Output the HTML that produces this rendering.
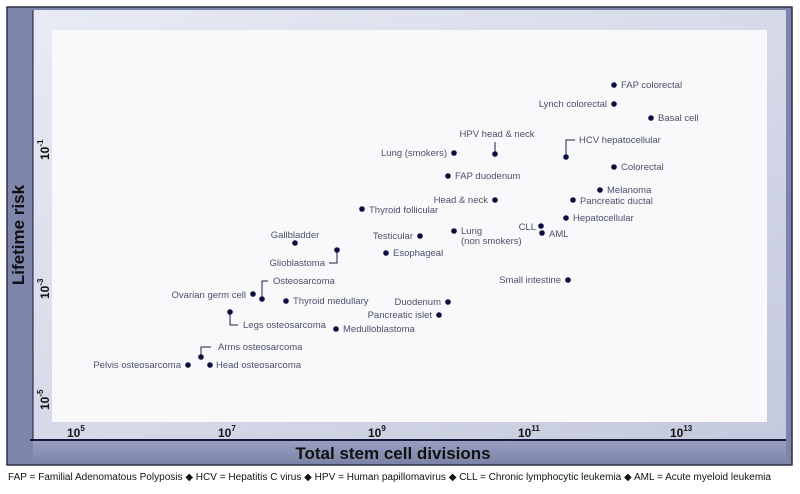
<!DOCTYPE html>
<html><head><meta charset="utf-8"><style>
body{margin:0;background:#fff;width:800px;height:489px;overflow:hidden;font-family:"Liberation Sans",sans-serif}
</style></head><body>
<svg width="800" height="489" xmlns="http://www.w3.org/2000/svg" font-family="Liberation Sans, sans-serif">
<defs>
<linearGradient id="fr" x1="0" y1="0" x2="1" y2="1"><stop offset="0" stop-color="#e8ebf4"/><stop offset="1" stop-color="#c4c9dd"/></linearGradient>
<linearGradient id="bb" x1="0" y1="0" x2="0" y2="1"><stop offset="0" stop-color="#9aa1c2"/><stop offset="1" stop-color="#7b83a8"/></linearGradient>
</defs>
<rect x="7" y="7" width="785" height="458" fill="#7d85aa" stroke="#2a2f45" stroke-width="1.5"/>
<rect x="33" y="10" width="753" height="430" fill="url(#fr)"/>
<rect x="33" y="440" width="753" height="24" fill="url(#bb)"/>
<line x1="30" y1="440" x2="786" y2="440" stroke="#15193a" stroke-width="2"/>
<line x1="33" y1="10" x2="33" y2="440" stroke="#15193a" stroke-width="1"/>
<rect x="52" y="30" width="715" height="392" fill="#f9f9fc"/>
<text x="393" y="459" font-size="17" font-weight="bold" text-anchor="middle" fill="#111">Total stem cell divisions</text>
<text transform="translate(24,235) rotate(-90)" font-size="17" font-weight="bold" text-anchor="middle" fill="#111">Lifetime risk</text>
<g font-size="12" font-weight="bold" fill="#111">
<text x="67" y="437">10<tspan font-size="8" dy="-6">5</tspan></text>
<text x="218" y="437">10<tspan font-size="8" dy="-6">7</tspan></text>
<text x="368" y="437">10<tspan font-size="8" dy="-6">9</tspan></text>
<text x="518" y="437">10<tspan font-size="8" dy="-6">11</tspan></text>
<text x="670" y="437">10<tspan font-size="8" dy="-6">13</tspan></text>
<text transform="translate(49,160) rotate(-90)">10<tspan font-size="8" dy="-6">-1</tspan></text>
<text transform="translate(49,299) rotate(-90)">10<tspan font-size="8" dy="-6">-3</tspan></text>
<text transform="translate(49,410) rotate(-90)">10<tspan font-size="8" dy="-6">-5</tspan></text>
</g>
<g stroke="#1a1f45" stroke-width="1" fill="none">
<path d="M495 154V142"/><path d="M566 157V140H575"/><path d="M337 250V263H329"/>
<path d="M262 299V281H268"/><path d="M230 312V325H238"/><path d="M201 357V347H211"/>
</g>
<g fill="#0b1040">
<circle cx="614" cy="85" r="2.8"/><circle cx="614" cy="104" r="2.8"/><circle cx="651" cy="118" r="2.8"/>
<circle cx="495" cy="154" r="2.8"/><circle cx="454" cy="153" r="2.8"/><circle cx="566" cy="157" r="2.8"/>
<circle cx="614" cy="167" r="2.8"/><circle cx="448" cy="176" r="2.8"/><circle cx="600" cy="190" r="2.8"/>
<circle cx="573" cy="200" r="2.8"/><circle cx="495" cy="200" r="2.8"/><circle cx="362" cy="209" r="2.8"/>
<circle cx="566" cy="218" r="2.8"/><circle cx="541" cy="226" r="2.8"/><circle cx="542" cy="233" r="2.8"/>
<circle cx="454" cy="231" r="2.8"/><circle cx="420" cy="236" r="2.8"/><circle cx="295" cy="243" r="2.8"/>
<circle cx="337" cy="250" r="2.8"/><circle cx="386" cy="253" r="2.8"/><circle cx="568" cy="280" r="2.8"/>
<circle cx="262" cy="299" r="2.8"/><circle cx="253" cy="294" r="2.8"/><circle cx="286" cy="301" r="2.8"/>
<circle cx="448" cy="302" r="2.8"/><circle cx="439" cy="315" r="2.8"/><circle cx="230" cy="312" r="2.8"/>
<circle cx="336" cy="329" r="2.8"/><circle cx="201" cy="357" r="2.8"/><circle cx="188" cy="365" r="2.8"/>
<circle cx="210" cy="365" r="2.8"/>
</g>
<g font-size="9.5" fill="#4a5068">
<text x="621" y="88">FAP colorectal</text>
<text x="607" y="107" text-anchor="end">Lynch colorectal</text>
<text x="658" y="121">Basal cell</text>
<text x="497" y="137" text-anchor="middle">HPV head &amp; neck</text>
<text x="447" y="156" text-anchor="end">Lung (smokers)</text>
<text x="579" y="143">HCV hepatocellular</text>
<text x="621" y="170">Colorectal</text>
<text x="455" y="179">FAP duodenum</text>
<text x="607" y="193">Melanoma</text>
<text x="580" y="204">Pancreatic ductal</text>
<text x="488" y="203" text-anchor="end">Head &amp; neck</text>
<text x="369" y="213">Thyroid follicular</text>
<text x="573" y="221">Hepatocellular</text>
<text x="536" y="230" text-anchor="end">CLL</text>
<text x="549" y="237">AML</text>
<text x="461" y="234">Lung</text>
<text x="461" y="244">(non smokers)</text>
<text x="413" y="239" text-anchor="end">Testicular</text>
<text x="295" y="238" text-anchor="middle">Gallbladder</text>
<text x="325" y="266" text-anchor="end">Glioblastoma</text>
<text x="393" y="256">Esophageal</text>
<text x="561" y="283" text-anchor="end">Small intestine</text>
<text x="273" y="284">Osteosarcoma</text>
<text x="246" y="298" text-anchor="end">Ovarian germ cell</text>
<text x="293" y="304">Thyroid medullary</text>
<text x="441" y="305" text-anchor="end">Duodenum</text>
<text x="432" y="318" text-anchor="end">Pancreatic islet</text>
<text x="243" y="328">Legs osteosarcoma</text>
<text x="343" y="332">Medulloblastoma</text>
<text x="218" y="350">Arms osteosarcoma</text>
<text x="181" y="368" text-anchor="end">Pelvis osteosarcoma</text>
<text x="216" y="368">Head osteosarcoma</text>
</g>
<text x="8" y="480" font-size="10" fill="#111" textLength="763" lengthAdjust="spacingAndGlyphs">FAP = Familial Adenomatous Polyposis  ◆  HCV = Hepatitis C virus  ◆  HPV = Human papillomavirus  ◆  CLL = Chronic lymphocytic leukemia  ◆  AML = Acute myeloid leukemia</text>
</svg>
</body></html>
